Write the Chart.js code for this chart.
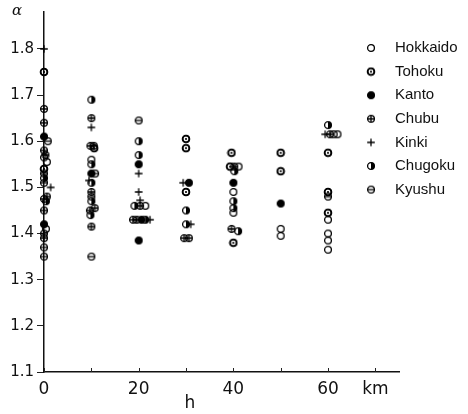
<!DOCTYPE html>
<html>
<head>
<meta charset="utf-8">
<script src="https://cdn.jsdelivr.net/npm/chart.js@4/dist/chart.umd.min.js"></script>
<style>
  html, body { margin: 0; padding: 0; background: #fff; }
  #wrap { width: 468px; height: 414px; }
</style>
</head>
<body>
<div id="wrap"><canvas id="chart" width="468" height="414"></canvas></div>
<script>
// regions (legend order)
const regions = ['Hokkaido', 'Tohoku', 'Kanto', 'Chubu', 'Kinki', 'Chugoku', 'Kyushu'];

// depth h (km) and alpha, one pair of arrays per region
const hokkaidoH = [0, 0.6, 0.4, 10, 21.4, 40, 40, 41.1, 50, 50, 61.2, 62, 60, 60, 60, 60];
const hokkaidoA = [1.565, 1.555, 1.41, 1.56, 1.46, 1.49, 1.445, 1.545, 1.41, 1.395, 1.615, 1.615, 1.43, 1.40, 1.385, 1.365];

const tohokuH = [0, 0, 10.6, 30, 30, 30, 39.6, 39.3, 40, 50, 50, 60, 60, 60];
const tohokuA = [1.75, 1.54, 1.585, 1.605, 1.585, 1.49, 1.575, 1.545, 1.38, 1.575, 1.535, 1.575, 1.49, 1.445];

const kantoH = [0, 0, 10, 20, 20, 20.6, 30.6, 40, 50];
const kantoA = [1.61, 1.42, 1.53, 1.55, 1.385, 1.43, 1.51, 1.51, 1.465];

const chubuH = [0, 0, 0, 0.3, 0.6, 0, 0, 0, 0, 10, 9.8, 10.5, 10, 9.7, 10.7, 10, 18.8, 19.6, 20.3, 29.6, 30.6, 39.6, 40.2, 60.4];
const chubuA = [1.67, 1.64, 1.58, 1.57, 1.48, 1.475, 1.45, 1.40, 1.39, 1.65, 1.59, 1.59, 1.49, 1.45, 1.455, 1.415, 1.43, 1.43, 1.46, 1.39, 1.39, 1.41, 1.545, 1.615];

const kinkiH = [0, 1.4, 10, 9.5, 20, 20, 20.3, 22.4, 29.4, 31, 59.4];
const kinkiA = [1.80, 1.50, 1.63, 1.515, 1.53, 1.49, 1.472, 1.43, 1.51, 1.42, 1.615];

const chugokuH = [0, 0.4, 10, 10, 10, 10, 9.8, 20, 20, 19.1, 21.4, 30, 30, 40.2, 40, 40, 41, 60];
const chugokuA = [1.52, 1.47, 1.69, 1.55, 1.51, 1.47, 1.44, 1.60, 1.57, 1.46, 1.43, 1.45, 1.42, 1.535, 1.47, 1.455, 1.405, 1.635];

const kyushuH = [0.8, 0, 0, 0, 0, 10.8, 10, 10, 20, 60];
const kyushuA = [1.60, 1.53, 1.51, 1.37, 1.35, 1.53, 1.48, 1.35, 1.645, 1.48];

// axes
const xTicks = [0, 10, 20, 30, 40, 50, 60, 70];
const xTickLabels = ['0', '', '20', '', '40', '', '60', 'km'];
const yTicks = [1.1, 1.2, 1.3, 1.4, 1.5, 1.6, 1.7, 1.8];
const yTickLabels = ['1.1', '1.2', '1.3', '1.4', '1.5', '1.6', '1.7', '1.8'];

// marker images drawn on small canvases
function makeMarker(kind) {
    const c = document.createElement('canvas');
    c.width = 10; c.height = 10;
    const g = c.getContext('2d');
    const cx = 5, cy = 5, r = 3.4;
    g.strokeStyle = '#000';
    g.fillStyle = '#000';
    g.lineWidth = 1.3;
    if (kind === 'plus') {
        g.beginPath();
        g.moveTo(cx - 3.8, cy); g.lineTo(cx + 3.8, cy);
        g.moveTo(cx, cy - 3.8); g.lineTo(cx, cy + 3.8);
        g.stroke();
        return c;
    }
    g.beginPath();
    g.arc(cx, cy, r, 0, Math.PI * 2);
    if (kind === 'filled') { g.fill(); }
    g.stroke();
    if (kind === 'double') {
        g.lineWidth = 1.8;
        g.beginPath(); g.arc(cx, cy, r, 0, Math.PI * 2); g.stroke();
        g.beginPath(); g.arc(cx, cy, 1.1, 0, Math.PI * 2); g.fill();
    }
    if (kind === 'cross') {
        g.beginPath();
        g.moveTo(cx - r, cy); g.lineTo(cx + r, cy);
        g.moveTo(cx, cy - r); g.lineTo(cx, cy + r);
        g.stroke();
    }
    if (kind === 'half') {
        g.beginPath();
        g.arc(cx, cy, r, -Math.PI / 2, Math.PI / 2);
        g.closePath();
        g.fill();
    }
    if (kind === 'bar') {
        g.beginPath();
        g.moveTo(cx - r, cy); g.lineTo(cx + r, cy);
        g.stroke();
    }
    return c;
}

const markerKinds = ['open', 'double', 'filled', 'cross', 'plus', 'half', 'bar'];
const markers = markerKinds.map(makeMarker);

const seriesH = [hokkaidoH, tohokuH, kantoH, chubuH, kinkiH, chugokuH, kyushuH];
const seriesA = [hokkaidoA, tohokuA, kantoA, chubuA, kinkiA, chugokuA, kyushuA];

const datasets = regions.map((name, i) => ({
    label: name,
    data: seriesH[i].map((h, j) => ({ x: h, y: seriesA[i][j] })),
    pointStyle: markers[i],
    clip: false
}));

// legend, axis letters, inward x ticks
const extras = {
    id: 'extras',
    afterDraw(chart) {
        const ctx = chart.ctx;
        const xs = chart.scales.x;
        ctx.save();
        ctx.strokeStyle = '#222';
        ctx.lineWidth = 1;
        xTicks.forEach(v => {
            const px = Math.round(xs.getPixelForValue(v)) + 0.5;
            ctx.beginPath();
            ctx.moveTo(px, xs.top);
            ctx.lineTo(px, xs.top - 4);
            ctx.stroke();
        });
        ctx.fillStyle = '#111';
        ctx.textBaseline = 'middle';
        ctx.font = '15px "Liberation Sans", Arial, sans-serif';
        regions.forEach((name, i) => {
            const y = 48 + i * 23.6;
            const m = markers[i];
            ctx.drawImage(m, 371 - m.width / 2, y - m.height / 2);
            ctx.fillText(name, 395, y);
        });
        ctx.font = '17px "DejaVu Sans", sans-serif';
        ctx.textAlign = 'center';
        ctx.fillText('h', 190, 404);
        ctx.font = 'italic 15px "DejaVu Serif", serif';
        ctx.fillText('α', 17, 11);
        ctx.restore();
    }
};

new Chart(document.getElementById('chart'), {
    type: 'scatter',
    data: { datasets: datasets },
    options: {
        responsive: false,
        animation: false,
        devicePixelRatio: 1,
        layout: { padding: { top: 8, right: 69, left: 0, bottom: 0 } },
        plugins: {
            legend: { display: false },
            tooltip: { enabled: false }
        },
        elements: { point: { radius: 4 } },
        scales: {
            x: {
                type: 'linear',
                min: 0,
                max: 75,
                afterBuildTicks: s => { s.ticks = xTicks.map(v => ({ value: v })); },
                afterFit: s => { s.height = 42; },
                grid: { drawOnChartArea: false, drawTicks: false },
                border: { display: true, color: '#111', width: 1.5 },
                ticks: {
                    padding: 7,
                    maxRotation: 0,
                    autoSkip: false,
                    color: '#111',
                    font: { family: '"DejaVu Sans", sans-serif', size: 17 },
                    callback: v => xTickLabels[xTicks.indexOf(v)]
                }
            },
            y: {
                type: 'linear',
                min: 1.1,
                max: 1.88,
                afterBuildTicks: s => { s.ticks = yTicks.map(v => ({ value: v })); },
                afterFit: s => { s.width = 44; },
                grid: { drawOnChartArea: false, drawTicks: true, tickLength: 7, color: '#222', lineWidth: 1 },
                border: { display: true, color: '#111', width: 1.5 },
                ticks: {
                    padding: 3,
                    autoSkip: false,
                    color: '#111',
                    font: { family: '"DejaVu Sans", sans-serif', size: 15 },
                    callback: v => yTickLabels[yTicks.findIndex(t => Math.abs(t - v) < 1e-6)]
                }
            }
        }
    },
    plugins: [extras]
});
</script>
</body>
</html>
